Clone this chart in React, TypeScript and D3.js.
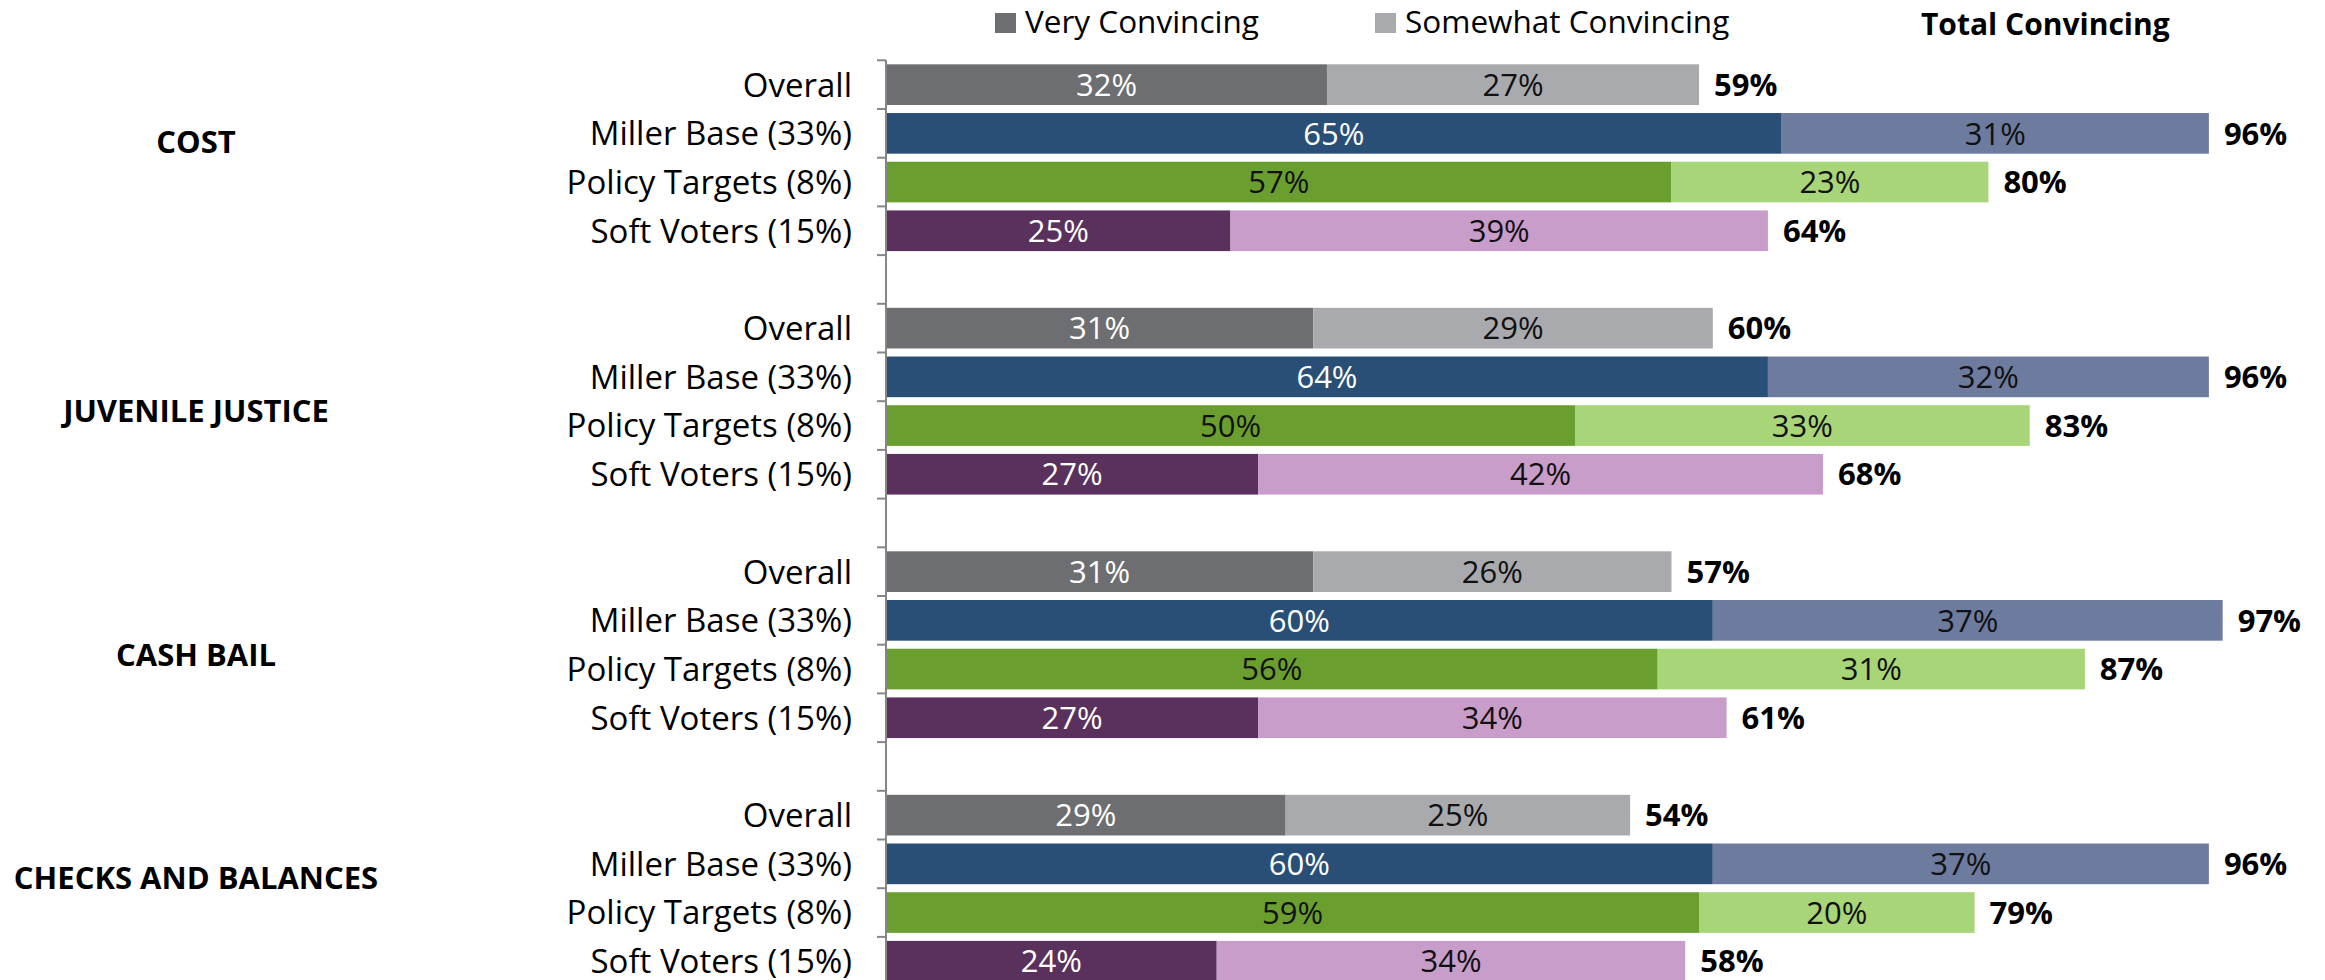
import React from "react";
import * as d3 from "d3";

// ---- data ----
const groups = ["COST", "JUVENILE JUSTICE", "CASH BAIL", "CHECKS AND BALANCES"];
const segments = ["Overall", "Miller Base (33%)", "Policy Targets (8%)", "Soft Voters (15%)"];
const seriesNames = ["Very Convincing", "Somewhat Convincing"];
const totalTitle = "Total Convincing";

const costVery = [32, 65, 57, 25];
const costSomewhat = [27, 31, 23, 39];
const costTotal = [59, 96, 80, 64];

const juvenileVery = [31, 64, 50, 27];
const juvenileSomewhat = [29, 32, 33, 42];
const juvenileTotal = [60, 96, 83, 68];

const cashVery = [31, 60, 56, 27];
const cashSomewhat = [26, 37, 31, 34];
const cashTotal = [57, 97, 87, 61];

const checksVery = [29, 60, 59, 24];
const checksSomewhat = [25, 37, 20, 34];
const checksTotal = [54, 96, 79, 58];

const veryByGroup = [costVery, juvenileVery, cashVery, checksVery];
const somewhatByGroup = [costSomewhat, juvenileSomewhat, cashSomewhat, checksSomewhat];
const totalByGroup = [costTotal, juvenileTotal, cashTotal, checksTotal];

// ---- styles ----
const veryColors = ["#6d6e71", "#294f77", "#6a9f30", "#5a315c"];
const somewhatColors = ["#a9aaad", "#6d7b9e", "#a8d577", "#c99dca"];
const veryLabelColors = ["#ffffff", "#ffffff", "#111111", "#ffffff"];
const somewhatLabelColors = ["#111111", "#111111", "#111111", "#111111"];
const groupLabelOffsets = [8, 34, 34, 14];
const FONT = "'Open Sans', 'Noto Sans', sans-serif";

const W = 2325;
const H = 980;

export default function App() {
  // slots: each group has 4 rows + 1 empty gap slot
  const slotKeys: string[] = [];
  groups.forEach((g, gi) => {
    segments.forEach((s) => slotKeys.push(`${g}|${s}`));
    slotKeys.push(`gap${gi}`);
  });

  const y = d3
    .scaleBand<string>()
    .domain(slotKeys)
    .range([60.3, 60.3 + 20 * 48.7])
    .paddingInner(0.165)
    .paddingOuter(0.0825);

  const x = d3.scaleLinear().domain([0, 100]).range([886, 2264]);
  const bh = y.bandwidth();
  const step = y.step();
  const boundaries = d3.range(slotKeys.length + 1).map((i) => 60.3 + i * step);

  return (
    <svg
      width={W}
      height={H}
      style={{ position: "absolute", left: 0, top: 0, background: "#fff" }}
      fontFamily={FONT}
    >
      <rect x={0} y={0} width={W} height={H} fill="#fff" />

      {/* legend */}
      <rect x={995} y={13} width={21} height={20} fill={veryColors[0]} />
      <text x={1025} y={33} fontSize={31.5} fill="#000">{seriesNames[0]}</text>
      <rect x={1375} y={13} width={21} height={20} fill={somewhatColors[0]} />
      <text x={1405} y={33} fontSize={31.5} fill="#000">{seriesNames[1]}</text>
      <text x={1921} y={35} fontSize={30} fontWeight="bold" fill="#000">{totalTitle}</text>

      {groups.map((g, gi) => {
        const missKey = `${g}|${segments[1]}`;
        const cy = (y(missKey) as number) + bh / 2 + groupLabelOffsets[gi];
        return (
          <g key={g}>
            <text
              x={196}
              y={cy}
              dy="0.36em"
              textAnchor="middle"
              fontSize={31}
              fontWeight="bold"
              fill="#000"
            >
              {g}
            </text>
            {segments.map((s, si) => {
              const key = `${g}|${s}`;
              const top = y(key) as number;
              const c = top + bh / 2;
              const v = veryByGroup[gi][si];
              const sw = somewhatByGroup[gi][si];
              const t = totalByGroup[gi][si];
              const x0 = x(0);
              const x1 = x(v);
              const x2 = x(t);
              return (
                <g key={key}>
                  <text x={852} y={c} dy="0.36em" textAnchor="end" fontSize={33} fill="#000">
                    {s}
                  </text>
                  <rect x={x0} y={top} width={x1 - x0} height={bh} fill={veryColors[si]} />
                  <rect x={x1} y={top} width={x2 - x1} height={bh} fill={somewhatColors[si]} />
                  <text
                    x={(x0 + x1) / 2}
                    y={c}
                    dy="0.36em"
                    textAnchor="middle"
                    fontSize={31}
                    fill={veryLabelColors[si]}
                  >
                    {`${v}%`}
                  </text>
                  <text
                    x={(x1 + x2) / 2}
                    y={c}
                    dy="0.36em"
                    textAnchor="middle"
                    fontSize={31}
                    fill={somewhatLabelColors[si]}
                  >
                    {`${sw}%`}
                  </text>
                  <text
                    x={x2 + 15}
                    y={c}
                    dy="0.36em"
                    fontSize={31}
                    fontWeight="bold"
                    fill="#000"
                  >
                    {`${t}%`}
                  </text>
                </g>
              );
            })}
          </g>
        );
      })}

      {/* axis */}
      <line x1={886} x2={886} y1={60.3} y2={boundaries[boundaries.length - 1]} stroke="#868686" strokeWidth={2} />
      {boundaries.map((b, i) => (
        <line key={i} x1={877} x2={886} y1={b} y2={b} stroke="#868686" strokeWidth={2} />
      ))}
    </svg>
  );
}
